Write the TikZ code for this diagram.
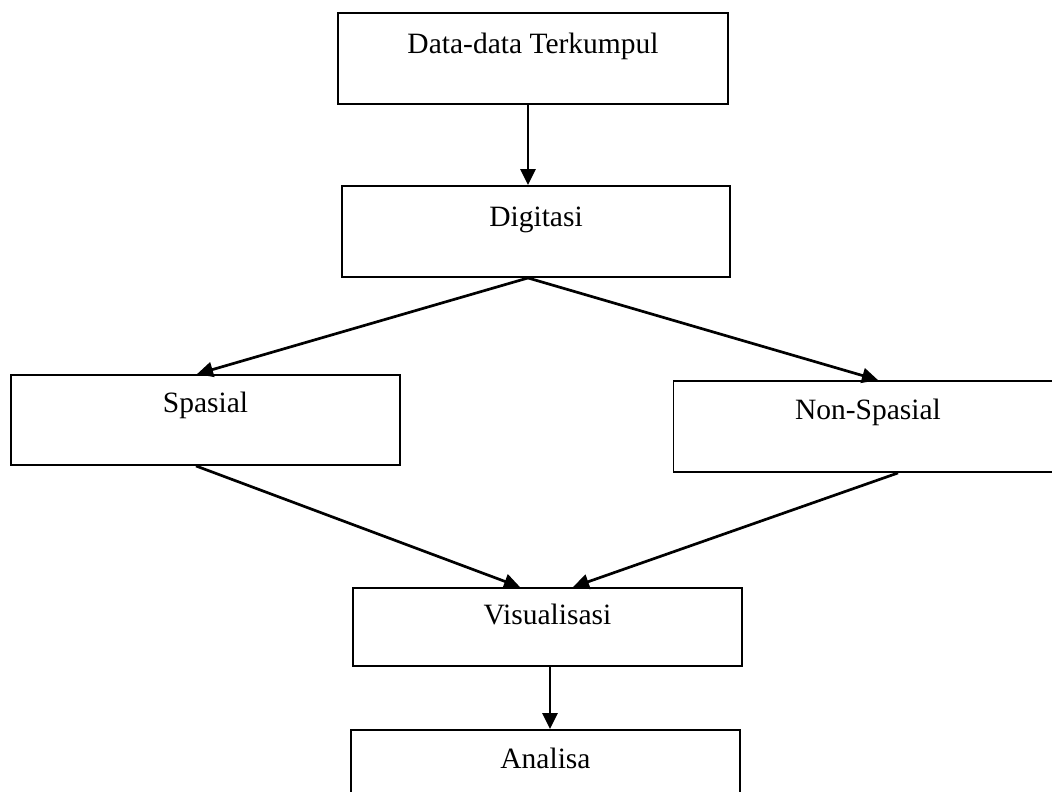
\documentclass[tikz,border=0pt]{standalone}
\usepackage{fontspec}
\setmainfont{Liberation Serif}
\usetikzlibrary{arrows.meta}

\begin{document}
\begin{tikzpicture}[x=1pt,y=-1pt,>={Triangle[length=16pt,width=15pt]},
  box/.style={draw,line width=1.9pt,inner sep=0pt,minimum width=389pt,minimum height=91pt,
    font=\fontsize{29.5}{35}\selectfont,text height=19.5pt,text depth=30pt},
  flow/.style={->,line width=2.7pt}]
  \clip (0,0) rectangle (1052,792);
  \node[box,minimum width=390pt] (top) at (533,58.5) {Data-data Terkumpul};
  \node[box,minimum width=388pt] (dig) at (536,231.5) {Digitasi};
  \node[box,minimum height=90pt,text depth=34pt] (spa) at (205.5,420) {Spasial};
  \node[box,text depth=33pt] (nsp) at (868,426.5) {Non-Spasial};
  \node[box,minimum height=78pt,text depth=24pt] (vis) at (547.5,627) {Visualisasi};
  \node[box,minimum height=80pt,text depth=22pt] (ana) at (545.5,770) {Analisa};
 \path[flow]
  ([xshift=-5pt]top.south)
    edge ([xshift=-8pt]dig.north)
  ([xshift=-8pt]dig.south)
    edge ([xshift=-8.5pt]spa.north)
    edge ([xshift=10pt]nsp.north)
  ([xshift=-9.5pt]spa.south)
    edge ([xshift=-27.5pt]vis.north)
  ([xshift=30pt]nsp.south)
    edge ([xshift=25.5pt]vis.north)
  ([xshift=2.5pt]vis.south)
    edge ([xshift=4.5pt]ana.north);

\end{tikzpicture}
\end{document}
